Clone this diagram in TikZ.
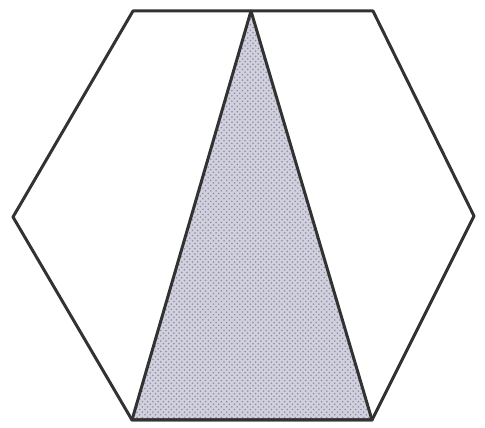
\documentclass[tikz,border=0pt]{standalone}
\usepackage{tikz}
\usepackage{xcolor}
\usetikzlibrary{patterns}
\definecolor{edgegray}{RGB}{50,50,50}
\definecolor{shadeblue}{RGB}{208,208,222}
\definecolor{dotgray}{RGB}{140,140,155}

\begin{document}
\begin{tikzpicture}[x=0.02cm, y=-0.02cm, line join=round]
            % Frame
            \useasboundingbox (0,0) rectangle (485,428);
            
            % Hexagon corners
            \coordinate (tl) at (133,11);
            \coordinate (tr) at (373,11);
            \coordinate (r) at (474,216);
            \coordinate (br) at (372,420);
            \coordinate (bl) at (132,420);
            \coordinate (l) at (13,217);
            \coordinate (apex) at (251,11);
            
            % Shaded triangle
            \fill[shadeblue] (apex) -- (bl) -- (br) -- cycle;
            \fill[pattern=crosshatch dots, pattern color=dotgray] (apex) -- (bl) -- (br) -- cycle;
            \draw[edgegray, line width=1.7pt] (apex) -- (bl) -- (br) -- cycle;
            
            % Hexagon
            \draw[edgegray, line width=1.7pt] (tl) -- (tr) -- (r) -- (br) -- (bl) -- (l) -- cycle;
        \end{tikzpicture}
\end{document}
